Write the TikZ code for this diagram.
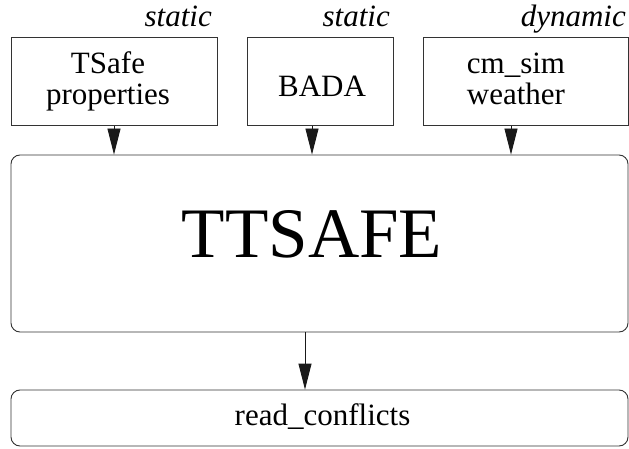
\documentclass[tikz,border=0pt]{standalone}
\usepackage{fontspec}
\setmainfont{Liberation Serif}
\usetikzlibrary{arrows.meta}
\begin{document}
\begin{tikzpicture}[x=1pt,y=-1pt,
  boxline/.style={draw=black!80,line width=0.9pt},
  srcbox/.style={boxline,rectangle,minimum height=88pt,inner sep=0pt},
  roundbox/.style={boxline,rectangle,rounded corners=9pt,inner sep=0pt,minimum width=617pt},
  boxtext/.style={font=\fontsize{31}{31}\selectfont,align=center,inner sep=0pt,anchor=base},
  kindlabel/.style={font=\fontsize{31}{31}\selectfont\itshape,inner sep=0pt,anchor=base east},
  arr/.style={draw=black!90,line width=0.9pt,-{Triangle[length=26pt,width=13pt]}}]
\useasboundingbox (0,0) rectangle (629,449);
% source boxes
\node[srcbox,minimum width=206pt] (b1) at (114,81.5) {};
\node[srcbox,minimum width=146pt] (b2) at (320,81.5) {};
\node[srcbox,minimum width=205pt] (b3) at (525.5,81.5) {};
\node[boxtext] (t1) at (108,105) {TSafe\\properties};
\node[boxtext] (t2) at (322,97) {BADA};
\node[boxtext] (t3) at (516,105) {cm\_sim\\weather};
% kind labels
\node[kindlabel] (k1) at (212,27) {static};
\node[kindlabel] (k2) at (390,27) {static};
\node[kindlabel] (k3) at (626,27) {dynamic};
% main box
\node[roundbox,minimum height=177pt] (big) at (319.5,243.5) {};
\node[font=\fontsize{71}{71}\selectfont,inner sep=0pt,anchor=base] (tt) at (312,258) {TTSAFE};
% output box
\node[roundbox,minimum height=56pt] (rc) at (319.5,418) {};
\node[boxtext] (rct) at (322.5,425) {read\_conflicts};
% arrows
\draw[arr] (b1.south) -- (b1.south |- big.north);
\draw[arr] ([xshift=-8pt]b2.south) -- ([xshift=-8pt]b2.south |- big.north);
\draw[arr] ([xshift=-14.5pt]b3.south) -- ([xshift=-14.5pt]b3.south |- big.north);
\draw[arr] ([xshift=-14.5pt]big.south) -- ([xshift=-14.5pt]big.south |- rc.north);
\end{tikzpicture}
\end{document}
